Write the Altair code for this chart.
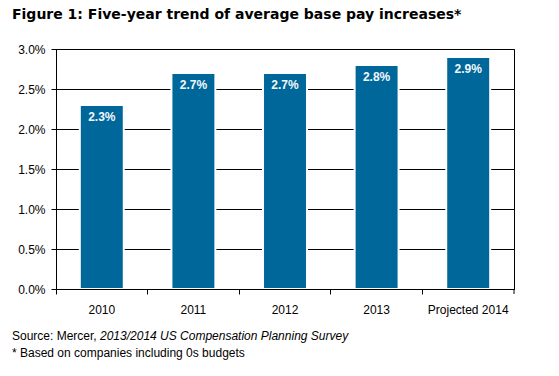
import altair as alt
import pandas as pd

categories = ["2010", "2011", "2012", "2013", "Projected 2014"]
values = [0.023, 0.027, 0.027, 0.028, 0.029]
value_labels = ["2.3%", "2.7%", "2.7%", "2.8%", "2.9%"]
y_ticks = [0.0, 0.005, 0.01, 0.015, 0.02, 0.025, 0.03]

title_text = "Figure 1: Five-year trend of average base pay increases*"
source_plain = "Source: Mercer, "
source_italic = "2013/2014 US Compensation Planning Survey"
footnote = "* Based on companies including 0s budgets"

df = pd.DataFrame({"cat": categories, "val": values, "lab": value_labels})
one = pd.DataFrame({"k": [0]})

W, H = 458, 240
FONT = "Liberation Sans"
BLUE = "#00679A"

x = alt.X("cat:N", sort=categories, title=None,
          scale=alt.Scale(paddingInner=0, paddingOuter=0),
          axis=alt.Axis(bandPosition=0, labelAngle=0,
                        labelFont=FONT, labelFontSize=12, labelColor="#000",
                        labelPadding=10, tickSize=5, tickColor="#000",
                        domainColor="#000", grid=False, zindex=1))
y = alt.Y("val:Q", title=None,
          scale=alt.Scale(domain=[0, 0.03], nice=False),
          axis=alt.Axis(values=y_ticks, format=".1%", labelFont=FONT,
                        labelFontSize=12, labelColor="#000", labelPadding=6,
                        labelOverlap=False, tickSize=5, tickColor="#000",
                        domainColor="#000", gridColor="#000", gridOpacity=1,
                        gridWidth=1))

base = alt.Chart(df)
bars = base.mark_bar(color=BLUE, stroke="white", strokeWidth=2,
                     width=alt.RelativeBandSize(0.48)).encode(x=x, y=y)
labels = base.mark_text(baseline="top", dy=7, font=FONT, fontSize=12,
                        fontWeight="bold", color="#f2f8fc").encode(
    x=x, y=y, text="lab:N")

end_tick = alt.Chart(one).mark_rule(color="#000").encode(
    x=alt.value(W), y=alt.value(H), y2=alt.value(H + 5))

src1 = alt.Chart(one).mark_text(align="left", baseline="middle", font=FONT,
                                fontSize=12, color="#000").encode(
    x=alt.value(-44), y=alt.value(H + 47), text=alt.value(source_plain))
src2 = alt.Chart(one).mark_text(align="left", baseline="middle", font=FONT,
                                fontSize=12, fontStyle="italic", color="#000").encode(
    x=alt.value(-44 + 88), y=alt.value(H + 47), text=alt.value(source_italic))
foot = alt.Chart(one).mark_text(align="left", baseline="middle", font=FONT,
                                fontSize=12, color="#000").encode(
    x=alt.value(-44), y=alt.value(H + 64), text=alt.value(footnote))
ttl = alt.Chart(one).mark_text(align="left", baseline="middle", font="DejaVu Sans",
                               fontSize=14, fontWeight="bold", color="#000").encode(
    x=alt.value(-44), y=alt.value(-34), text=alt.value(title_text))

chart = alt.layer(bars, labels, end_tick, src1, src2, foot, ttl).properties(
    width=W, height=H,
    autosize=alt.AutoSizeParams(type="none"),
    padding={"left": 56, "top": 49, "right": 45, "bottom": 87},
    background="white",
).configure_view(stroke="#000", strokeWidth=1)

chart.save("out.html", embed_options={"renderer": "svg", "actions": False})
